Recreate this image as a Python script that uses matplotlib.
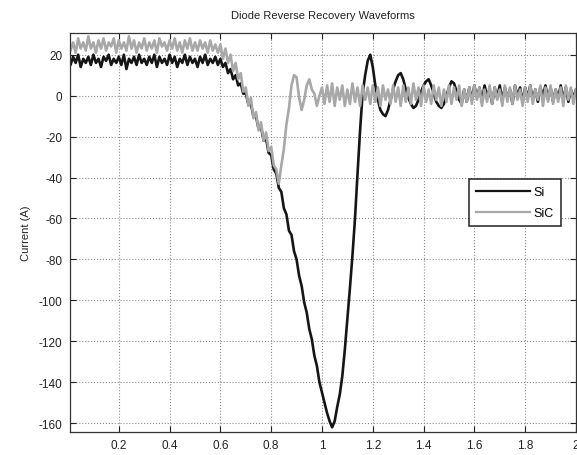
import matplotlib

matplotlib.use("Agg")

import matplotlib.pyplot as plt
import numpy as np

# sample grid of the scope trace, 0.01 steps from 0 to 2
time_step = 0.01
n_samples = 201

si_current = [
    18, 15, 19, 16, 20, 14, 18, 16, 19, 15,
    20, 16, 18, 14, 19, 17, 20, 15, 18, 16,
    19, 15, 20, 13, 18, 16, 19, 15, 20, 16,
    18, 15, 19, 16, 20, 14, 19, 16, 18, 15,
    20, 16, 19, 14, 18, 16, 20, 15, 19, 16,
    18, 14, 19, 16, 20, 15, 18, 16, 19, 15,
    18, 14, 16, 11, 13, 8, 10, 5, 6, 1,
    1, -4, -4, -10, -10, -16, -15, -22, -21, -28,
    -29, -36, -38, -45, -47, -55, -58, -66, -68, -76,
    -80, -88, -93, -101, -106, -114, -119, -127, -132, -140,
    -145, -150, -155, -159, -162, -159, -152, -146, -137, -124,
    -109, -94, -78, -60, -38, -17, 1, 10, 17, 20,
    14, 5, -2, -7, -9, -10, -7, -2, 3, 7,
    10, 11, 8, 3, -1, -4, -6, -5, -2, 2,
    5, 7, 8, 5, 1, -3, -5, -6, -4, 0,
    4, 7, 6, 2, -2, -4, 3, -3, 4, -2,
    5, -1, 4, -3, 5, 0, 3, -4, 4, -1,
    5, -2, 4, -1, 3, -4, 5, 0, 4, -3,
    4, -1, 5, -2, 3, -3, 4, 0, 5, -2,
    4, -3, 3, -1, 5, -2, 4, -3, 3, -1,
    3,
]

sic_current = [
    27, 22, 26, 21, 28, 23, 26, 22, 29, 23,
    26, 21, 27, 23, 28, 22, 26, 24, 28, 21,
    27, 23, 26, 22, 29, 23, 27, 21, 26, 23,
    28, 22, 26, 23, 27, 21, 28, 24, 26, 22,
    27, 23, 28, 22, 26, 21, 27, 23, 28, 22,
    26, 22, 27, 23, 26, 21, 27, 22, 25, 21,
    25, 18, 23, 16, 20, 12, 16, 8, 11, 2,
    4, -5, -1, -11, -8, -17, -13, -22, -18, -27,
    -25, -34, -36, -43, -34, -26, -14, -6, 5, 10,
    9, -1, -7, -2, 5, 8, 3, 1, -5, 0,
    4, -4, 5, -3, 6, -5, 4, -2, 5, -5,
    3, -4, 6, -3, 4, -5, 5, -2, 4, -4,
    5, -3, 4, -5, 5, -2, 3, -4, 5, -3,
    4, -5, 5, -3, 4, -4, 6, -2, 4, -5,
    5, -3, 3, -4, 5, -2, 4, -5, 3, -3,
    5, -4, 4, -2, 5, -5, 3, -3, 4, -4,
    5, -2, 4, -5, 3, -3, 5, -4, 4, -2,
    3, -5, 5, -3, 4, -4, 5, -2, 3, -5,
    4, -3, 5, -4, 3, -2, 5, -5, 4, -3,
    5, -4, 3, -3, 4, -5, 5, -2, 4, -4,
    3,
]

x_ticks = [0.2, 0.4, 0.6, 0.8, 1.0, 1.2, 1.4, 1.6, 1.8, 2.0]
x_tick_labels = ["0.2", "0.4", "0.6", "0.8", "1", "1.2", "1.4", "1.6", "1.8", "2"]
y_ticks = [20, 0, -20, -40, -60, -80, -100, -120, -140, -160]


def main() -> None:
    plt.rcParams["font.family"] = ["Liberation Sans", "DejaVu Sans"]
    plt.rcParams["axes.unicode_minus"] = False

    t = np.arange(n_samples) * time_step

    fig = plt.figure(figsize=(5.77, 4.56), dpi=100)
    ax = fig.add_axes([0.1205, 0.0504, 0.8777, 0.875])

    ax.plot(t, si_current, color="#151515", linewidth=1.9, label="Si")
    ax.plot(t, sic_current, color="#a8a8a8", linewidth=1.9, label="SiC")

    ax.set_xlim(0.006, 2.0)
    ax.set_ylim(-164.3, 30.6)
    ax.set_xticks(x_ticks)
    ax.set_xticklabels(x_tick_labels)
    ax.set_yticks(y_ticks)

    ax.tick_params(direction="in", length=4, width=0.8, top=True, right=True,
                   labelsize=8.5, colors="#222222", pad=5)
    ax.grid(True, linestyle=":", color="#8c8c8c", linewidth=0.8)
    for spine in ax.spines.values():
        spine.set_color("#333333")
        spine.set_linewidth(0.9)

    ax.set_title("Diode Reverse Recovery Waveforms", fontsize=8, color="#222222", pad=11)
    ax.set_ylabel("Current (A)", fontsize=8, color="#222222", labelpad=6)

    leg = ax.legend(loc="upper left", bbox_to_anchor=(0.777, 0.649), fontsize=9,
                    fancybox=False, framealpha=1, edgecolor="#222222",
                    handlelength=4.3, handletextpad=0.3, borderpad=0.55,
                    labelspacing=0.7)
    leg.get_frame().set_linewidth(1.1)
    for line in leg.get_lines():
        line.set_linewidth(1.6)

    fig.savefig("out.png", dpi=100)
    plt.close(fig)


if __name__ == "__main__":
    main()
